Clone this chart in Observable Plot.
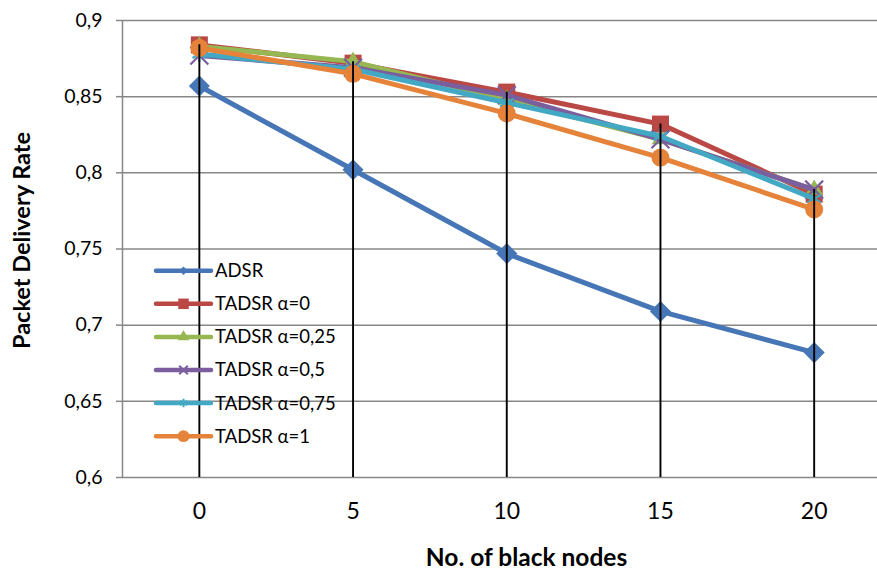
<!DOCTYPE html>
<html><head><meta charset="utf-8">
<script src="https://cdn.jsdelivr.net/npm/d3@7"></script>
<script src="https://cdn.jsdelivr.net/npm/@observablehq/plot@0.6"></script>
<style>
html,body{margin:0;padding:0;background:#fff;overflow:hidden}
#wrap{position:relative;width:877px;height:571px}
#legend{position:absolute;left:0;top:0;pointer-events:none}
</style></head><body><div id="wrap"></div>
<script>
const nodes = [0, 5, 10, 15, 20];
const seriesNames = ["ADSR", "TADSR α=0", "TADSR α=0,25", "TADSR α=0,5", "TADSR α=0,75", "TADSR α=1"];
const adsr = [0.857, 0.802, 0.747, 0.709, 0.682];
const alpha0 = [0.884, 0.872, 0.853, 0.832, 0.786];
const alpha025 = [0.883, 0.873, 0.848, 0.822, 0.789];
const alpha05 = [0.877, 0.869, 0.851, 0.822, 0.789];
const alpha075 = [0.878, 0.868, 0.846, 0.824, 0.783];
const alpha1 = [0.882, 0.865, 0.839, 0.810, 0.776];
const seriesValues = [adsr, alpha0, alpha025, alpha05, alpha075, alpha1];
const colors = ["#4776B6", "#BA4845", "#96B752", "#7A5E9E", "#43A8C3", "#E5833A"];
const symbols = ["diamond2", "square", "triangle", "times", "asterisk", "circle"];
const yTicks = [0.6, 0.65, 0.7, 0.75, 0.8, 0.85, 0.9];
const xTicks = [0, 5, 10, 15, 20];
const xTitle = "No. of black nodes";
const yTitle = "Packet Delivery Rate";

const filled = [true, true, true, false, false, true];
const markerR = [9.5, 9.6, 6.5, 8.2, 7.5, 9];
const legendSize = [45, 110, 60, 50, 50, 110];

const rows = [];
seriesNames.forEach((s, i) => nodes.forEach((n, j) => rows.push({series: s, idx: i, x: n, y: seriesValues[i][j]})));
const tops = nodes.map((n, j) => ({x: n, top: d3.max(seriesValues, v => v[j])}));

const fmt = d => String(d).replace(".", ",");
const xDomain = [-2.5, 22.06];
const yDomain = [0.6, 0.9];
const FONT = "Lato, 'Open Sans', sans-serif";

const marks = [
  Plot.ruleY(yTicks, {y: d => d, stroke: "#878787", strokeWidth: 1.5}),
  Plot.ruleX([xDomain[0]], {x: d => d, stroke: "#878787", strokeWidth: 1.5}),
  Plot.axisY(yTicks, {tickFormat: fmt, tickSize: 6, tickPadding: 14, stroke: "#878787", strokeWidth: 1.5, fontSize: 19.5, label: null}),
  Plot.axisX(xTicks, {tickSize: 0, tickPadding: 25, fontSize: 23, label: null})
];
seriesNames.forEach((s, i) => {
  const d = rows.filter(r => r.idx === i);
  marks.push(Plot.line(d, {x: "x", y: "y", stroke: colors[i], strokeWidth: 5, strokeLinejoin: "round", strokeLinecap: "round"}));
  marks.push(Plot.dot(d, {
    x: "x", y: "y", symbol: symbols[i], r: markerR[i],
    fill: filled[i] ? colors[i] : "none",
    stroke: filled[i] ? "none" : colors[i],
    strokeWidth: filled[i] ? 0 : 2.2
  }));
});
marks.push(Plot.ruleX(tops, {x: "x", y1: yDomain[0], y2: "top", stroke: "#000", strokeWidth: 1.9}));
marks.push(Plot.text([xTitle], {text: d => d, frameAnchor: "bottom", textAnchor: "middle", lineAnchor: "middle", dx: 26.5, dy: 81, fontWeight: "bold", fontSize: 24.5}));
marks.push(Plot.text([yTitle], {text: d => d, frameAnchor: "left", textAnchor: "middle", lineAnchor: "middle", rotate: -90, dx: -100, dy: -8.5, fontWeight: "bold", fontSize: 23.5}));

const chart = Plot.plot({
  width: 877, height: 571,
  marginLeft: 122, marginRight: 0, marginTop: 20, marginBottom: 94,
  style: {fontFamily: FONT, background: "#fff", color: "#000", overflow: "hidden"},
  x: {domain: xDomain, axis: null},
  y: {domain: yDomain, axis: null},
  marks
});
const wrap = document.getElementById("wrap");
wrap.appendChild(chart);

// legend overlay (transparent, inside the plot area)
const lg = d3.select(wrap).append("svg").attr("id", "legend").attr("width", 877).attr("height", 571)
  .style("font-family", FONT);
const symMap = {diamond2: d3.symbolDiamond2, square: d3.symbolSquare, triangle: d3.symbolTriangle, times: d3.symbolTimes, asterisk: d3.symbolAsterisk, circle: d3.symbolCircle};
seriesNames.forEach((s, i) => {
  const cy = 270.7 + 33.1 * i;
  const g = lg.append("g").attr("transform", `translate(0,${cy})`);
  g.append("line").attr("x1", 156).attr("x2", 211).attr("y1", 0).attr("y2", 0)
    .attr("stroke", colors[i]).attr("stroke-width", 4.5).attr("stroke-linecap", "round");
  g.append("path").attr("transform", "translate(183.5,0)")
    .attr("d", d3.symbol(symMap[symbols[i]], legendSize[i])())
    .attr("fill", filled[i] ? colors[i] : "none")
    .attr("stroke", filled[i] ? "none" : colors[i])
    .attr("stroke-width", 2);
  g.append("text").attr("x", 215).attr("y", 0).attr("dy", "0.35em")
    .attr("font-size", 18.5).attr("fill", "#000").text(s);
});
</script>
</body></html>
